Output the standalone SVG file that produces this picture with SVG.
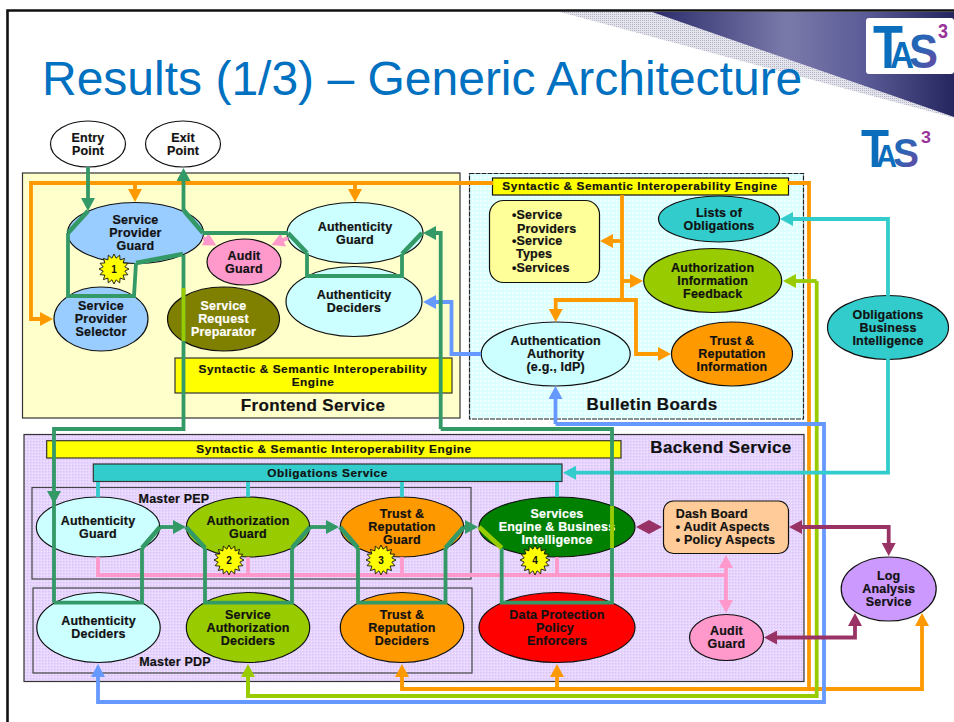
<svg xmlns="http://www.w3.org/2000/svg" width="954" height="722" viewBox="0 0 954 722">
<style>
text{font-family:"Liberation Sans",Arial,sans-serif;font-weight:bold;font-size:12.5px;letter-spacing:.2px;fill:#111;stroke:#111;stroke-width:.2;text-anchor:middle}
.l{text-anchor:start}
.w{fill:#fff;stroke:#fff}
.y{font-size:11.8px;letter-spacing:.55px}
.h{font-size:17px;letter-spacing:.35px}
.g{stroke:none;letter-spacing:0}
.n{stroke:#111;stroke-width:1.2}
.c{fill:none;stroke-width:3.8;stroke-linejoin:miter}
.gr{stroke:#339966}.or{stroke:#FF9900}.bl{stroke:#6699FF}.li{stroke:#99CC00}.cy{stroke:#33CCCC}.pk{stroke:#FF99CC}.pl{stroke:#993366}
.ag{marker-end:url(#mg)}.ao{marker-end:url(#mo)}.ab{marker-end:url(#mb)}.al{marker-end:url(#ml)}.ac{marker-end:url(#mc)}.ap{marker-end:url(#mp)}.am{marker-end:url(#mm)}
.d{stroke-width:4.6}
.pb{fill:#CCFFFF}.pr{fill:#9CF}.pu{fill:#99CC00}.po{fill:#FF9900}.pt{fill:#33CCCC}
.box{stroke:#333;stroke-width:1.2}
</style>
<defs>
<marker id="mg" markerUnits="userSpaceOnUse" markerWidth="13" markerHeight="14" refX="8" refY="7" orient="auto-start-reverse"><path d="M0 0L13 7L0 14Z" fill="#339966"/></marker>
<marker id="mo" markerUnits="userSpaceOnUse" markerWidth="13" markerHeight="14" refX="8" refY="7" orient="auto-start-reverse"><path d="M0 0L13 7L0 14Z" fill="#FF9900"/></marker>
<marker id="mb" markerUnits="userSpaceOnUse" markerWidth="13" markerHeight="14" refX="8" refY="7" orient="auto-start-reverse"><path d="M0 0L13 7L0 14Z" fill="#6699FF"/></marker>
<marker id="ml" markerUnits="userSpaceOnUse" markerWidth="13" markerHeight="14" refX="8" refY="7" orient="auto-start-reverse"><path d="M0 0L13 7L0 14Z" fill="#99CC00"/></marker>
<marker id="mc" markerUnits="userSpaceOnUse" markerWidth="13" markerHeight="14" refX="8" refY="7" orient="auto-start-reverse"><path d="M0 0L13 7L0 14Z" fill="#33CCCC"/></marker>
<marker id="mp" markerUnits="userSpaceOnUse" markerWidth="13" markerHeight="14" refX="8" refY="7" orient="auto-start-reverse"><path d="M0 0L13 7L0 14Z" fill="#FF99CC"/></marker>
<marker id="mm" markerUnits="userSpaceOnUse" markerWidth="13" markerHeight="14" refX="8" refY="7" orient="auto-start-reverse"><path d="M0 0L13 7L0 14Z" fill="#993366"/></marker>
<pattern id="pBack" width="3" height="3" patternUnits="userSpaceOnUse"><rect width="3" height="3" fill="#E6D4FF"/><rect width="1" height="1" fill="#D6C0F4"/><rect x="2" y="2" width="1" height="1" fill="#F2E8FF"/></pattern>
<pattern id="pBull" width="4" height="4" patternUnits="userSpaceOnUse"><rect width="4" height="4" fill="#DCFFFF"/><rect width="2" height="2" fill="#F2FFFF"/></pattern>
<pattern id="pGray" width="2" height="2" patternUnits="userSpaceOnUse"><rect width="2" height="2" fill="#E4E4EC"/><rect width="1" height="1" fill="#B4B4C6"/></pattern>
<linearGradient id="gBand" gradientUnits="userSpaceOnUse" x1="650" y1="0" x2="954" y2="0"><stop offset="0" stop-color="#2A2A6A"/><stop offset=".45" stop-color="#7A7AAA"/><stop offset=".7" stop-color="#5C5C98"/><stop offset="1" stop-color="#25255F"/></linearGradient>
<linearGradient id="gLogo" x1="0" y1="0" x2="1" y2="1"><stop offset="0" stop-color="#0A6EBD"/><stop offset=".55" stop-color="#3A5FB0"/><stop offset="1" stop-color="#7A3FA0"/></linearGradient>
<polygon id="burst" points="15,0 10.8,2.1 13.9,5.7 9.1,6.1 10.6,10.6 6.1,9.1 5.7,13.9 2.1,10.8 0,15 -2.1,10.8 -5.7,13.9 -6.1,9.1 -10.6,10.6 -9.1,6.1 -13.9,5.7 -10.8,2.1 -15,0 -10.8,-2.1 -13.9,-5.7 -9.1,-6.1 -10.6,-10.6 -6.1,-9.1 -5.7,-13.9 -2.1,-10.8 0,-15 2.1,-10.8 5.7,-13.9 6.1,-9.1 10.6,-10.6 9.1,-6.1 13.9,-5.7 10.8,-2.1" fill="#FFFF00" stroke="#111" stroke-width=".9"/>
</defs>
<rect width="954" height="722" fill="#fff"/>
<g id="slide-decor">
<polygon points="560,12 652,12 954,117 954,118" fill="url(#pGray)"/>
<polygon points="652,12 954,12 954,117" fill="url(#gBand)"/>
<path d="M7.500 722V10.500H954" fill="none" stroke="#111" stroke-width="2.600"/>
<rect x="866" y="18" width="88" height="56" rx="3" fill="#fff"/>
<text x="873" y="68" class="l g" style="font-size:62px;fill:#0A6EBD" textLength="30" lengthAdjust="spacingAndGlyphs">T</text>
<text x="890" y="68" class="l g" style="font-size:36px;fill:#0A6EBD" textLength="24" lengthAdjust="spacingAndGlyphs">A</text>
<text x="909" y="68" class="l g" style="font-size:48px;fill:url(#gLogo)" textLength="29" lengthAdjust="spacingAndGlyphs">S</text>
<text x="938" y="38" class="l g" style="font-size:20px;fill:#993399" textLength="10" lengthAdjust="spacingAndGlyphs">3</text>
<text x="861" y="167" class="l g" style="font-size:53px;fill:#0A6EBD" textLength="28" lengthAdjust="spacingAndGlyphs">T</text>
<text x="876" y="167" class="l g" style="font-size:31px;fill:#0A6EBD" textLength="21" lengthAdjust="spacingAndGlyphs">A</text>
<text x="893" y="167" class="l g" style="font-size:41px;fill:url(#gLogo)" textLength="26" lengthAdjust="spacingAndGlyphs">S</text>
<text x="921" y="143" class="l g" style="font-size:17px;fill:#993399" textLength="10" lengthAdjust="spacingAndGlyphs">3</text>
<text x="42" y="95" class="l g" style="font-size:48px;font-weight:normal;fill:#0070C0">Results (1/3) – Generic Architecture</text>
</g>
<g id="panels">
<rect id="frontend-panel" x="22.500" y="173" width="437.500" height="245" fill="#FFFFCC" class="box"/>
<rect id="bulletin-panel" x="469.500" y="173.500" width="334" height="245.500" fill="url(#pBull)" stroke="#222" stroke-width="1.200" stroke-dasharray="5 1"/>
<rect id="backend-panel" x="24" y="434.500" width="780" height="247" fill="url(#pBack)" class="box"/>
<rect id="master-pep" x="32" y="487.500" width="439" height="91.500" fill="none" stroke="#444" stroke-width="1.200"/>
<rect id="master-pdp" x="33" y="588" width="439" height="85" fill="none" stroke="#444" stroke-width="1.200"/>
<text x="313" y="411" class="h">Frontend Service</text>
<text x="652" y="410" class="h">Bulletin Boards</text>
<text x="721" y="453" class="h">Backend Service</text>
<text x="174" y="503">Master PEP</text>
<text x="175" y="666">Master PDP</text>
</g>
<g id="entry-point"><ellipse cx="88" cy="144" rx="37.500" ry="23" fill="#fff" class="n"/><text x="88" y="142">Entry</text><text x="88" y="155">Point</text></g>
<g id="exit-point"><ellipse cx="183" cy="144" rx="37.500" ry="23" fill="#fff" class="n"/><text x="183" y="142">Exit</text><text x="183" y="155">Point</text></g>
<g id="service-provider-guard"><ellipse cx="135.500" cy="233" rx="68" ry="30.500" class="n pr"/><text x="135.500" y="224">Service</text><text x="135.500" y="237">Provider</text><text x="135.500" y="250">Guard</text></g>
<g id="service-provider-selector"><ellipse cx="101" cy="319" rx="47" ry="32" class="n pr"/><text x="101" y="310">Service</text><text x="101" y="323">Provider</text><text x="101" y="336">Selector</text></g>
<g id="audit-guard-front"><ellipse cx="244" cy="262" rx="37" ry="23" fill="#FF99CC" class="n"/><text x="244" y="260">Audit</text><text x="244" y="273">Guard</text></g>
<g id="service-request-preparator"><ellipse cx="223.500" cy="319" rx="56" ry="32" fill="#808000" class="n"/><text x="223.500" y="310" class="w">Service</text><text x="223.500" y="323" class="w">Request</text><text x="223.500" y="336" class="w">Preparator</text></g>
<g id="authenticity-guard-front"><ellipse cx="355" cy="233" rx="68" ry="30.500" class="n pb"/><text x="355" y="231">Authenticity</text><text x="355" y="244">Guard</text></g>
<g id="authenticity-deciders-front"><ellipse cx="354" cy="301.500" rx="68" ry="35" class="n pb"/><text x="354" y="299">Authenticity</text><text x="354" y="312">Deciders</text></g>
<g id="sse-front"><rect x="175" y="358" width="277" height="35" fill="#FFFF00" class="box"/><text x="313" y="373" class="y">Syntactic &amp; Semantic Interoperability</text><text x="313" y="386" class="y">Engine</text></g>
<g id="sse-bulletin"><rect x="492.500" y="178" width="296" height="17" fill="#FFFF00" stroke="#111" stroke-width="1.200"/><text x="640" y="190" class="y">Syntactic &amp; Semantic Interoperability Engine</text></g>
<g id="service-list"><rect x="489.500" y="200.500" width="110" height="82" rx="14" fill="#FFFF99" class="n"/><text x="512" y="219" class="l">•Service</text><text x="517" y="233" class="l">Providers</text><text x="512" y="245" class="l">•Service</text><text x="516" y="258" class="l">Types</text><text x="512" y="272" class="l">•Services</text></g>
<g id="lists-of-obligations"><ellipse cx="719" cy="219" rx="60.500" ry="23" class="n pt"/><text x="719" y="217">Lists of</text><text x="719" y="230">Obligations</text></g>
<g id="authorization-information-feedback"><ellipse cx="712.700" cy="280.500" rx="69" ry="32" class="n pu"/><text x="712.700" y="272">Authorization</text><text x="712.700" y="285">Information</text><text x="712.700" y="298">Feedback</text></g>
<g id="authentication-authority"><ellipse cx="555.700" cy="354" rx="74.500" ry="32" class="n pb"/><text x="555.700" y="345">Authentication</text><text x="555.700" y="358">Authority</text><text x="555.700" y="371">(e.g., IdP)</text></g>
<g id="trust-reputation-information"><ellipse cx="732" cy="354" rx="60.500" ry="32" class="n po"/><text x="732" y="345">Trust &amp;</text><text x="732" y="358">Reputation</text><text x="732" y="371">Information</text></g>
<g id="obligations-business-intelligence"><ellipse cx="888" cy="327.500" rx="60.500" ry="32" class="n pt"/><text x="888" y="319">Obligations</text><text x="888" y="332">Business</text><text x="888" y="345">Intelligence</text></g>
<g id="sse-back"><rect x="46.700" y="440.700" width="574.300" height="17.300" fill="#FFFF00" class="box"/><text x="334" y="453" class="y">Syntactic &amp; Semantic Interoperability Engine</text></g>
<g id="obligations-service"><rect x="93.300" y="464" width="468.700" height="17.500" fill="#33CCCC" class="box"/><text x="327.500" y="477" class="y">Obligations Service</text></g>
<g id="authenticity-guard"><ellipse cx="98" cy="527" rx="61.700" ry="30" class="n pb"/><text x="98" y="525">Authenticity</text><text x="98" y="538">Guard</text></g>
<g id="authorization-guard"><ellipse cx="248" cy="527" rx="61.700" ry="30" class="n pu"/><text x="248" y="525">Authorization</text><text x="248" y="538">Guard</text></g>
<g id="trust-reputation-guard"><ellipse cx="402" cy="527" rx="61.700" ry="30" class="n po"/><text x="402" y="518">Trust &amp;</text><text x="402" y="531">Reputation</text><text x="402" y="544">Guard</text></g>
<g id="services-engine"><ellipse cx="557" cy="527" rx="78" ry="30" fill="#008000" class="n"/><text x="557" y="518" class="w">Services</text><text x="557" y="531" class="w">Engine &amp; Business</text><text x="557" y="544" class="w">Intelligence</text></g>
<g id="authenticity-deciders"><ellipse cx="98.500" cy="627.500" rx="61.700" ry="35" class="n pb"/><text x="98.500" y="625">Authenticity</text><text x="98.500" y="638">Deciders</text></g>
<g id="service-authorization-deciders"><ellipse cx="248" cy="627.500" rx="61.700" ry="35" class="n pu"/><text x="248" y="619">Service</text><text x="248" y="632">Authorization</text><text x="248" y="645">Deciders</text></g>
<g id="trust-reputation-deciders"><ellipse cx="402" cy="627.500" rx="61.700" ry="35" class="n po"/><text x="402" y="619">Trust &amp;</text><text x="402" y="632">Reputation</text><text x="402" y="645">Deciders</text></g>
<g id="data-protection-policy-enforcers"><ellipse cx="557" cy="627.500" rx="78" ry="35" fill="#FF0000" class="n"/><text x="557" y="619">Data Protection</text><text x="555" y="632">Policy</text><text x="557" y="645">Enforcers</text></g>
<g id="dash-board"><rect x="663.500" y="501" width="125" height="52.500" rx="10" fill="#FFCC99" class="n"/><text x="675.700" y="518" class="l">Dash Board</text><text x="675.700" y="531" class="l">• Audit Aspects</text><text x="675.700" y="544" class="l">• Policy Aspects</text></g>
<g id="audit-guard-back"><ellipse cx="726.500" cy="637.500" rx="37" ry="23" fill="#FF99CC" class="n"/><text x="726.500" y="635">Audit</text><text x="726.500" y="648">Guard</text></g>
<g id="log-analysis-service"><ellipse cx="888.700" cy="589" rx="47.500" ry="32" fill="#CC99FF" class="n"/><text x="888.700" y="580">Log</text><text x="888.700" y="593">Analysis</text><text x="888.700" y="606">Service</text></g>
<g id="connectors">
<g class="c pk">
<path d="M98 557V575H726"/><path d="M248 557V575M402 557V575M557 557V575"/>
<path d="M726 560V608" style="marker-start:url(#mp);marker-end:url(#mp)"/>
<path d="M203 238L212 243" class="ap"/><path d="M288 238L276 243" class="ap"/>
</g>
<g class="c or">
<path d="M493 183H31V319H48" class="ao"/><path d="M135 183V197" class="ao"/><path d="M355 183V197" class="ao"/>
<path d="M788 183H809V689H402V669" class="ao"/><path d="M557 689V669" class="ao"/><path d="M809 689H922V618" class="ao"/>
<path d="M622 195V300"/><path d="M622 241H605" class="ao"/><path d="M622 281H638" class="ao"/>
<path d="M622 300H555.700V317" class="ao"/><path d="M622 300H636V354H666" class="ao"/>
</g>
<g class="c li"><path d="M816.700 281V696H248V669"/><path d="M816.700 281H788" class="al"/><path d="M248 696V669" class="al"/></g>
<g class="c bl"><path d="M555.500 424H824V702H98V669" class="ab"/><path d="M555.500 424V391" class="ab"/><path d="M481 354H451.500V302H428" class="ab"/></g>
<g class="c cy"><path d="M888 296V219H785" class="ac"/><path d="M888 359V472.700H568" class="ac"/><path d="M98 482V497M248 482V497M402 482V497M557 482V497"/></g>
<g class="c pl"><path d="M641 527H657" style="marker-start:url(#mm);marker-end:url(#mm)"/><path d="M794 527H888.700V551" style="marker-start:url(#mm);marker-end:url(#mm)"/><path d="M769 637.500H855V618" style="marker-start:url(#mm);marker-end:url(#mm)"/></g>
<g class="c gr">
<path d="M88 167V206" class="ag"/>
<path d="M183.500 210V173" class="ag"/>
<path d="M183.500 255V429H54V499" class="ag"/>
<path d="M54 499V602.700"/>
<path d="M68 233V296H134L136 263"/>
<path d="M203 233H288"/>
<path d="M307 253V276H402V254"/>
<path d="M440.700 429V233H428" class="ag"/>
<path d="M440.700 429H612V602.700H501.700V548"/>
<path d="M54 602.700H142V548"/>
<path d="M160 527H181" class="ag"/>
<path d="M205 548V602.700H292V548"/>
<path d="M310 527H334" class="ag"/>
<path d="M358 548V602.700H445.500V548"/>
<path d="M463.700 527H473" class="ag"/>
</g>
<g class="c gr d">
<path d="M88 211L68 233"/><path d="M136 263L183 254"/><path d="M183.500 210L203 233"/>
<path d="M288 233L307 253"/><path d="M402 254L422 233"/>
<path d="M142 548L160 527"/><path d="M186 527L205 548"/><path d="M292 548L310 527"/><path d="M340 527L358 548"/><path d="M445.500 548L463.700 527"/>
</g>
<g class="c li"><path d="M183.500 288V341"/><path d="M612 506V548"/><path d="M479 527L501.700 548" style="stroke-width:4.600"/></g>
</g>
<g id="badge-1"><use href="#burst" x="114" y="269"/><text x="114" y="273" class="g" style="font-size:10px">1</text></g>
<g id="badge-2"><use href="#burst" x="229" y="560"/><text x="229" y="564" class="g" style="font-size:10px">2</text></g>
<g id="badge-3"><use href="#burst" x="381" y="560"/><text x="381" y="564" class="g" style="font-size:10px">3</text></g>
<g id="badge-4"><use href="#burst" x="535" y="560"/><text x="535" y="564" class="g" style="font-size:10px">4</text></g>
</svg>
